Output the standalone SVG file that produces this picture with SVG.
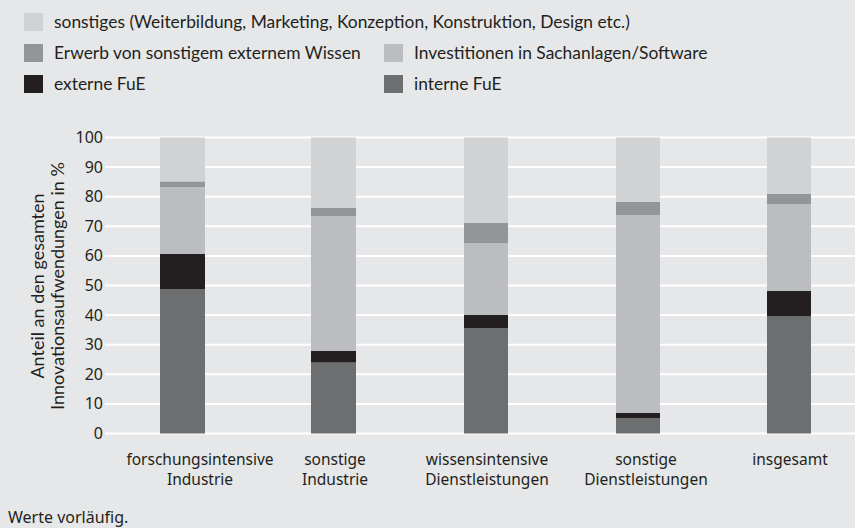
<svg xmlns="http://www.w3.org/2000/svg" width="855" height="528" viewBox="0 0 855 528">
<style>
.bg{fill:#e6e7e8}
.s1{fill:#d1d2d4}
.s2{fill:#939598}
.s3{fill:#bcbdc0}
.s4{fill:#231f20}
.s5{fill:#6d6e70}
.grid{stroke:#ffffff;stroke-width:2}
.leg{font-family:Lato,"Open Sans",sans-serif;font-size:17.4px;fill:#231f20}
.ax{font-family:"Noto Sans","Open Sans",sans-serif;font-size:16px;fill:#231f20}
.tick{font-family:"Noto Sans","Open Sans",sans-serif;font-size:16px;fill:#231f20;text-anchor:end}
.cat{font-family:"Noto Sans","Open Sans",sans-serif;font-size:15.5px;fill:#231f20;text-anchor:middle}
.yt{font-family:Lato,"Open Sans",sans-serif;font-size:18px;fill:#231f20;text-anchor:middle}
</style>
<rect class="bg" x="0" y="0" width="855" height="528"/>
<g id="legend">
  <rect class="s1" x="24" y="13" width="19" height="18"/>
  <text class="leg" x="54" y="28">sonstiges (Weiterbildung, Marketing, Konzeption, Konstruktion, Design etc.)</text>
  <rect class="s2" x="24" y="44" width="19" height="18"/>
  <text class="leg" x="54" y="59">Erwerb von sonstigem externem Wissen</text>
  <rect class="s3" x="384" y="44" width="19" height="18"/>
  <text class="leg" x="414" y="59">Investitionen in Sachanlagen/Software</text>
  <rect class="s4" x="24" y="75" width="19" height="18"/>
  <text class="leg" x="54" y="90">externe FuE</text>
  <rect class="s5" x="384" y="75" width="19" height="18"/>
  <text class="leg" x="414" y="90">interne FuE</text>
</g>
<g id="grid">
  <line class="grid" x1="105" y1="137.5" x2="855" y2="137.5"/>
  <line class="grid" x1="105" y1="167.1" x2="855" y2="167.1"/>
  <line class="grid" x1="105" y1="196.7" x2="855" y2="196.7"/>
  <line class="grid" x1="105" y1="226.3" x2="855" y2="226.3"/>
  <line class="grid" x1="105" y1="255.9" x2="855" y2="255.9"/>
  <line class="grid" x1="105" y1="285.5" x2="855" y2="285.5"/>
  <line class="grid" x1="105" y1="315.1" x2="855" y2="315.1"/>
  <line class="grid" x1="105" y1="344.7" x2="855" y2="344.7"/>
  <line class="grid" x1="105" y1="374.3" x2="855" y2="374.3"/>
  <line class="grid" x1="105" y1="403.9" x2="855" y2="403.9"/>
  <line class="grid" x1="105" y1="433.5" x2="855" y2="433.5"/>
</g>
<g id="ticks">
  <text class="tick" x="103" y="143">100</text>
  <text class="tick" x="103" y="172.6">90</text>
  <text class="tick" x="103" y="202.2">80</text>
  <text class="tick" x="103" y="231.8">70</text>
  <text class="tick" x="103" y="261.4">60</text>
  <text class="tick" x="103" y="291">50</text>
  <text class="tick" x="103" y="320.6">40</text>
  <text class="tick" x="103" y="350.2">30</text>
  <text class="tick" x="103" y="379.8">20</text>
  <text class="tick" x="103" y="409.4">10</text>
  <text class="tick" x="103" y="439">0</text>
</g>
<g id="ytitle">
  <text class="yt" transform="translate(44,286) rotate(-90)">Anteil an den gesamten</text>
  <text class="yt" transform="translate(64,286) rotate(-90)">Innovationsaufwendungen in %</text>
</g>
<g id="bar1">
  <rect class="s1" x="160" y="137.5" width="45" height="44.2"/>
  <rect class="s2" x="160" y="181.7" width="45" height="5.3"/>
  <rect class="s3" x="160" y="187" width="45" height="67"/>
  <rect class="s4" x="160" y="254" width="45" height="35"/>
  <rect class="s5" x="160" y="289" width="45" height="144.5"/>
</g>
<g id="bar2">
  <rect class="s1" x="311" y="137.5" width="45" height="70.5"/>
  <rect class="s2" x="311" y="208" width="45" height="8"/>
  <rect class="s3" x="311" y="216" width="45" height="135"/>
  <rect class="s4" x="311" y="351" width="45" height="11.7"/>
  <rect class="s5" x="311" y="362.7" width="45" height="70.8"/>
</g>
<g id="bar3">
  <rect class="s1" x="464" y="137.5" width="44" height="85.5"/>
  <rect class="s2" x="464" y="223" width="44" height="20"/>
  <rect class="s3" x="464" y="243" width="44" height="72"/>
  <rect class="s4" x="464" y="315" width="44" height="13"/>
  <rect class="s5" x="464" y="328" width="44" height="105.5"/>
</g>
<g id="bar4">
  <rect class="s1" x="616" y="137.5" width="44" height="64.5"/>
  <rect class="s2" x="616" y="202" width="44" height="13"/>
  <rect class="s3" x="616" y="215" width="44" height="198"/>
  <rect class="s4" x="616" y="413" width="44" height="5"/>
  <rect class="s5" x="616" y="418" width="44" height="15.5"/>
</g>
<g id="bar5">
  <rect class="s1" x="767" y="137.5" width="44" height="56.5"/>
  <rect class="s2" x="767" y="194" width="44" height="10"/>
  <rect class="s3" x="767" y="204" width="44" height="87"/>
  <rect class="s4" x="767" y="291" width="44" height="25"/>
  <rect class="s5" x="767" y="316" width="44" height="117.5"/>
</g>
<g id="categories">
  <text class="cat" x="200" y="465">forschungsintensive</text>
  <text class="cat" x="200" y="485">Industrie</text>
  <text class="cat" x="335" y="465">sonstige</text>
  <text class="cat" x="335" y="485">Industrie</text>
  <text class="cat" x="487" y="465">wissensintensive</text>
  <text class="cat" x="487" y="485">Dienstleistungen</text>
  <text class="cat" x="646" y="465">sonstige</text>
  <text class="cat" x="646" y="485">Dienstleistungen</text>
  <text class="cat" x="790" y="465">insgesamt</text>
</g>
<text class="ax" x="8" y="523">Werte vorläufig.</text>
</svg>
